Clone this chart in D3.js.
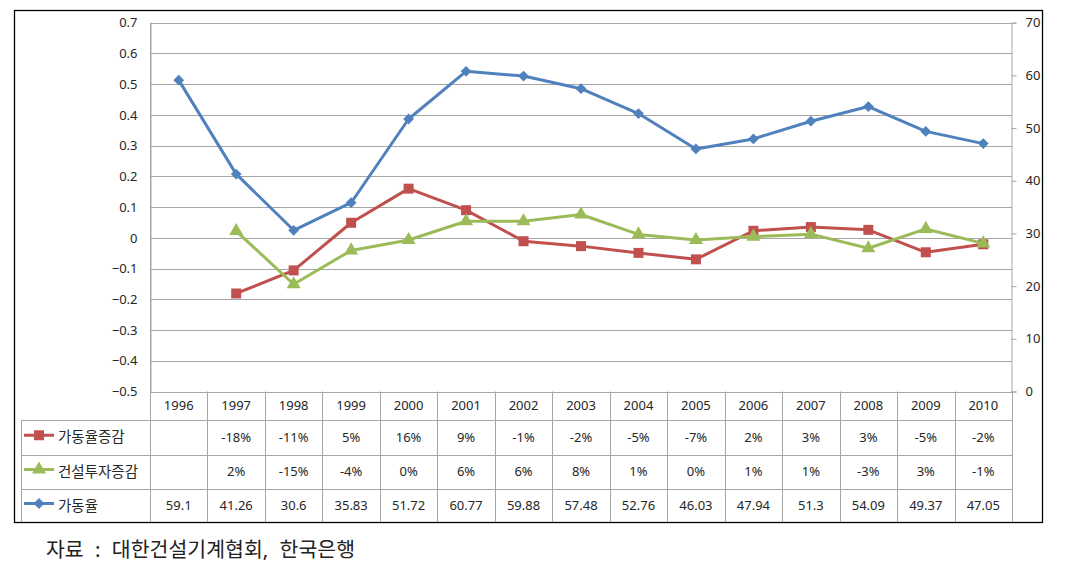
<!DOCTYPE html>
<html><head><meta charset="utf-8">
<script src="https://cdn.jsdelivr.net/npm/d3@7"></script>
<style>
body{margin:0;background:#fff;}
text{font-family:"Noto Sans","Noto Sans CJK KR",sans-serif;}
</style></head>
<body>
<svg id="c" width="1069" height="573"></svg>
<script>
const years = ["1996","1997","1998","1999","2000","2001","2002","2003","2004","2005","2006","2007","2008","2009","2010"];
const seriesNames = ["가동율증감","건설투자증감","가동율"];
// plotted values (left axis)
const utilChange = [null,-0.181,-0.106,0.049,0.160,0.090,-0.011,-0.027,-0.049,-0.070,0.023,0.035,0.026,-0.047,-0.021];
const investChange = [null,0.022,-0.151,-0.041,-0.007,0.054,0.054,0.076,0.011,-0.007,0.004,0.012,-0.034,0.029,-0.018];
// right axis
const utilRate = [59.1,41.26,30.6,35.83,51.72,60.77,59.88,57.48,52.76,46.03,47.94,51.3,54.09,49.37,47.05];
// table labels
const utilChangeLabels = ["","-18%","-11%","5%","16%","9%","-1%","-2%","-5%","-7%","2%","3%","3%","-5%","-2%"];
const investChangeLabels = ["","2%","-15%","-4%","0%","6%","6%","8%","1%","0%","1%","1%","-3%","3%","-1%"];
const utilRateLabels = ["59.1","41.26","30.6","35.83","51.72","60.77","59.88","57.48","52.76","46.03","47.94","51.3","54.09","49.37","47.05"];
const leftTicks = [0.7,0.6,0.5,0.4,0.3,0.2,0.1,0,-0.1,-0.2,-0.3,-0.4,-0.5];
const rightTicks = [0,10,20,30,40,50,60,70];
const caption = "자료 : 대한건설기계협회, 한국은행";

const svg = d3.select("#c");
const L=150, R=1012, T=22.7, B=391.5;
const colors = {red:"#c0504d", green:"#9bbb59", blue:"#4f81bd"};
const grid = "#a6a6a6";
const txt = "#262626";

const x = d3.scaleBand().domain(years).range([L,R]);
const yL = d3.scaleLinear().domain([-0.5,0.7]).range([B,T]);
const yR = d3.scaleLinear().domain([0,70]).range([B,T]);

// outer border
svg.append("rect").attr("x",14.5).attr("y",10.5).attr("width",1028).attr("height",512)
  .attr("fill","none").attr("stroke","#000").attr("stroke-width",1.3);

// gridlines
svg.append("g").selectAll("line").data(leftTicks).join("line")
  .attr("x1",L).attr("x2",R).attr("y1",d=>Math.round(yL(d))+0.5).attr("y2",d=>Math.round(yL(d))+0.5)
  .attr("stroke",grid).attr("stroke-width",1);

// left axis
const gl = svg.append("g").attr("transform",`translate(${L+0.5},0)`)
  .call(d3.axisLeft(yL).tickValues(leftTicks).tickSize(0).tickPadding(13).tickFormat(d=>d===0?"0":d3.format(".1f")(d)));
gl.select(".domain").attr("stroke",grid);
gl.selectAll("text").attr("font-size",13).attr("fill",txt);

// right axis
const gr = svg.append("g").attr("transform",`translate(${R-0.5},0)`)
  .call(d3.axisRight(yR).tickValues(rightTicks).tickSize(5).tickPadding(9));
gr.select(".domain").attr("stroke",grid);
gr.selectAll(".tick line").attr("stroke",grid);
gr.selectAll("text").attr("font-size",13).attr("fill",txt);

// table
const rowY = [B, 420, 454.5, 488.5, 522.5];
const tg = svg.append("g");
[1,2,3].forEach(i=>{
  tg.append("line").attr("x1",21).attr("x2",R).attr("y1",Math.round(rowY[i])+0.5).attr("y2",Math.round(rowY[i])+0.5).attr("stroke",grid);
});
const vx = years.map(d=>x(d)).concat([R]);
vx.forEach((v,i)=>{
  tg.append("line").attr("x1",Math.round(v)+0.5).attr("x2",Math.round(v)+0.5)
    .attr("y1",i===0?T:B).attr("y2",522).attr("stroke",grid);
});
tg.append("line").attr("x1",21.5).attr("x2",21.5).attr("y1",420).attr("y2",522).attr("stroke",grid);

tg.selectAll("text.yr").data(years).join("text").attr("class","yr")
  .attr("x",d=>x(d)+x.bandwidth()/2).attr("y",(rowY[0]+rowY[1])/2).attr("dy","0.35em")
  .attr("text-anchor","middle").attr("font-size",13).attr("fill",txt).text(d=>d);
const rows = [utilChangeLabels, investChangeLabels, utilRateLabels];
rows.forEach((arr,ri)=>{
  tg.append("g").selectAll("text").data(arr).join("text")
    .attr("x",(d,i)=>x(years[i])+x.bandwidth()/2).attr("y",(rowY[ri+1]+rowY[ri+2])/2).attr("dy","0.35em")
    .attr("text-anchor","middle").attr("font-size",13).attr("fill",txt).text(d=>d);
});

// marker shapes
const sym = {
  red: {d: d3.symbol().type(d3.symbolSquare).size(100)(), rot: 0},
  green: {d: d3.symbol().type(d3.symbolTriangle).size(85)(), rot: 0},
  blue: {d: d3.symbol().type(d3.symbolSquare).size(58)(), rot: 45}
};

function drawSeries(data, scale, col){
  const pts = data.map((v,i)=>({x:x(years[i])+x.bandwidth()/2, v})).filter(d=>d.v!==null);
  svg.append("path").datum(pts)
    .attr("d",d3.line().x(d=>d.x).y(d=>scale(d.v)))
    .attr("fill","none").attr("stroke",colors[col]).attr("stroke-width",3).attr("stroke-linejoin","round");
  svg.append("g").selectAll("path").data(pts).join("path")
    .attr("transform",d=>`translate(${d.x},${scale(d.v)}) rotate(${sym[col].rot})`)
    .attr("d",sym[col].d).attr("fill",colors[col]);
}
drawSeries(utilRate, yR, "blue");
drawSeries(utilChange, yL, "red");
drawSeries(investChange, yL, "green");

// legend keys in table
const legendCols = ["red","green","blue"];
seriesNames.forEach((name,i)=>{
  const cy = (rowY[i+1]+rowY[i+2])/2;
  const col = legendCols[i];
  tg.append("line").attr("x1",24).attr("x2",54).attr("y1",cy-2).attr("y2",cy-2)
    .attr("stroke",colors[col]).attr("stroke-width",3);
  tg.append("path").attr("transform",`translate(39,${cy-2}) rotate(${sym[col].rot})`).attr("d",sym[col].d).attr("fill",colors[col]);
  tg.append("text").attr("x",58).attr("y",cy).attr("dy","0.35em")
    .attr("font-family","Noto Sans CJK KR").attr("font-size",14.5).attr("fill",txt).text(name);
});

// caption
svg.append("text").attr("x",46).attr("y",550).attr("dy","0.35em")
  .attr("font-family","Noto Sans CJK KR").attr("font-size",20.5).attr("fill","#222")
  .attr("word-spacing",6)
  .attr("xml:space","preserve").text(caption);
</script>
</body></html>
